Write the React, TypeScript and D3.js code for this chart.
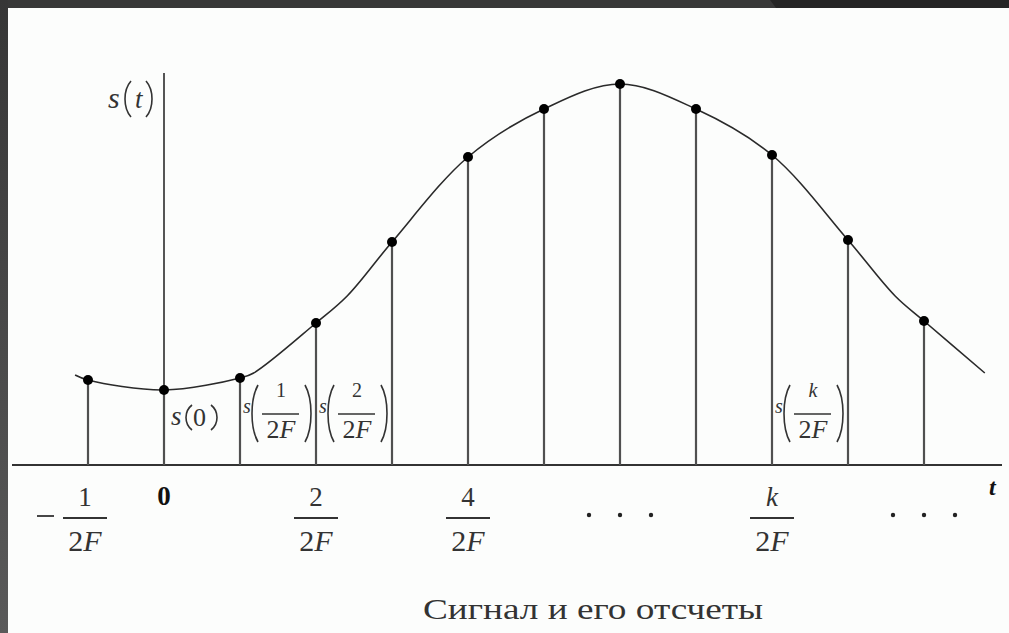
import React from "react";
import * as d3 from "d3";

// sample indices k (t = k / 2F) and sample values s(k/2F)
const sampleK = [-1, 0, 1, 2, 3, 4, 5, 6, 7, 8, 9, 10];
const sampleS = [0.85, 0.75, 0.87, 1.42, 2.23, 3.08, 3.56, 3.81, 3.56, 3.1, 2.25, 1.44];

// continuous signal s(t) trace vertices (t in units of 1/2F)
const curveT = [-1.17, -1, 0, 1, 1.18, 2, 2.41, 3, 4, 5, 6, 7, 8, 9, 9.62, 10, 10.8];
const curveS = [0.9, 0.85, 0.75, 0.87, 0.92, 1.42, 1.69, 2.23, 3.08, 3.56, 3.81, 3.56, 3.1, 2.25, 1.69, 1.44, 0.92];

// axis tick labels: k values with fraction numerators
const tickK = [-1, 2, 4, 8];
const tickNum = ["1", "2", "4", "k"];
const tickNeg = [true, false, false, false];
// ellipsis groups centred on these k
const ellipsisK = [6, 10];

// sample annotations s(k/2F)
const annK = [1, 2, 8];
const annNum = ["1", "2", "k"];

const title = "Сигнал и его отсчеты";

const W = 1009;
const H = 633;
const SERIF = "'Liberation Serif', 'DejaVu Serif', serif";

function Paren({ x, y1, y2, left }: { x: number; y1: number; y2: number; left: boolean }) {
  const w = 7;
  const h = y2 - y1;
  const d = left
    ? `M${x + w},${y1} C${x - 1},${y1 + h * 0.25} ${x - 1},${y2 - h * 0.25} ${x + w},${y2}`
    : `M${x},${y1} C${x + w + 1},${y1 + h * 0.25} ${x + w + 1},${y2 - h * 0.25} ${x},${y2}`;
  return <path d={d} fill="none" stroke="#333" strokeWidth={1.6} />;
}

export default function App() {
  const x = d3.scaleLinear().domain([0, 10]).range([164, 924]);
  const y = d3.scaleLinear().domain([0, 4]).range([465, 65]);
  const axisY = y(0);

  const curvePts: [number, number][] = curveT.map((t, i) => [t, curveS[i]]);
  const line = d3
    .line<[number, number]>()
    .x((d) => x(d[0]))
    .y((d) => y(d[1]))
    .curve(d3.curveCatmullRom.alpha(0.5));

  return (
    <svg
      width={W}
      height={H}
      style={{ position: "absolute", left: 0, top: 0, display: "block" }}
      fontFamily={SERIF}
    >
      <defs>
        <linearGradient id="leftBand" x1="0" y1="0" x2="0" y2="1">
          <stop offset="0" stopColor="#363636" />
          <stop offset="1" stopColor="#5a5a5a" />
        </linearGradient>
      </defs>
      {/* frame */}
      <rect x={0} y={0} width={W} height={H} fill="#fcfdfc" />
      <rect x={0} y={0} width={W} height={8} fill="#383838" />
      <polygon points={`770,0 ${W},0 ${W},8 776,8`} fill="#252525" />
      <rect x={0} y={0} width={8} height={H} fill="url(#leftBand)" />

      {/* horizontal axis */}
      <line x1={12} x2={1002} y1={axisY} y2={axisY} stroke="#333" strokeWidth={2} />
      {/* vertical axis */}
      <line x1={x(0)} x2={x(0)} y1={73} y2={axisY} stroke="#555" strokeWidth={2} />

      {/* stems */}
      {sampleK.map((k, i) => (
        <line key={"st" + k} x1={x(k)} x2={x(k)} y1={y(sampleS[i])} y2={axisY} stroke="#505050" strokeWidth={2.2} />
      ))}

      {/* signal curve */}
      <path d={line(curvePts) || ""} fill="none" stroke="#2a2a2a" strokeWidth={1.6} />

      {/* sample points */}
      {sampleK.map((k, i) => (
        <circle key={"pt" + k} cx={x(k)} cy={y(sampleS[i])} r={5} fill="#000" />
      ))}

      {/* s(t) label */}
      <text x={108} y={108} fontSize={30} fill="#333">
        <tspan fontStyle="italic">s</tspan>
      </text>
      <Paren x={124} y1={81} y2={117} left={true} />
      <text x={135} y={108} fontSize={27} fontStyle="italic" fill="#333">t</text>
      <Paren x={146} y1={81} y2={117} left={false} />

      {/* s(0) label */}
      <text x={171} y={425} fontSize={27} fill="#333">
        <tspan fontStyle="italic">s</tspan>
      </text>
      <Paren x={185} y1={405} y2={430} left={true} />
      <text x={193} y={426} fontSize={26} fill="#333">0</text>
      <Paren x={211} y1={405} y2={430} left={false} />

      {/* s(k/2F) labels */}
      {annK.map((k, i) => {
        const sx = x(k) + 3;
        const cx = sx + 38;
        return (
          <g key={"ann" + k}>
            <text x={sx} y={413} fontSize={20} fontStyle="italic" fill="#333">s</text>
            <Paren x={sx + 8} y1={385} y2={442} left={true} />
            <text x={cx} y={397} fontSize={20} textAnchor="middle" fill="#333" fontStyle={annNum[i] === "k" ? "italic" : "normal"}>
              {annNum[i]}
            </text>
            <line x1={cx - 19} x2={cx + 18} y1={414} y2={414} stroke="#333" strokeWidth={1.5} />
            <text x={cx} y={438} fontSize={26} textAnchor="middle" fill="#333">
              2<tspan fontStyle="italic">F</tspan>
            </text>
            <Paren x={sx + 62} y1={385} y2={442} left={false} />
          </g>
        );
      })}

      {/* tick labels */}
      <text x={x(0)} y={505} fontSize={27} fontWeight="bold" textAnchor="middle" fill="#111">0</text>
      {tickK.map((k, i) => {
        const cx = x(k) - (tickNeg[i] ? 3 : 0);
        return (
          <g key={"tk" + k}>
            {tickNeg[i] && (
              <line x1={cx - 48} x2={cx - 31} y1={516} y2={516} stroke="#333" strokeWidth={1.8} />
            )}
            <text x={cx} y={506} fontSize={27} textAnchor="middle" fill="#333" fontStyle={tickNum[i] === "k" ? "italic" : "normal"}>
              {tickNum[i]}
            </text>
            <line x1={cx - 22} x2={cx + 22} y1={518} y2={518} stroke="#333" strokeWidth={1.8} />
            <text x={cx} y={551} fontSize={30} textAnchor="middle" fill="#333">
              2<tspan fontStyle="italic">F</tspan>
            </text>
          </g>
        );
      })}
      {ellipsisK.map((k) => (
        <g key={"el" + k}>
          {[-31, 0, 31].map((o) => (
            <circle key={o} cx={x(k) + o} cy={515} r={2.2} fill="#222" />
          ))}
        </g>
      ))}
      <text x={989} y={495} fontSize={24} fontWeight="bold" fontStyle="italic" fill="#111">t</text>

      {/* title */}
      <text x={423} y={619} fontSize={29} textLength={340} lengthAdjust="spacingAndGlyphs" fill="#333">{title}</text>
    </svg>
  );
}
